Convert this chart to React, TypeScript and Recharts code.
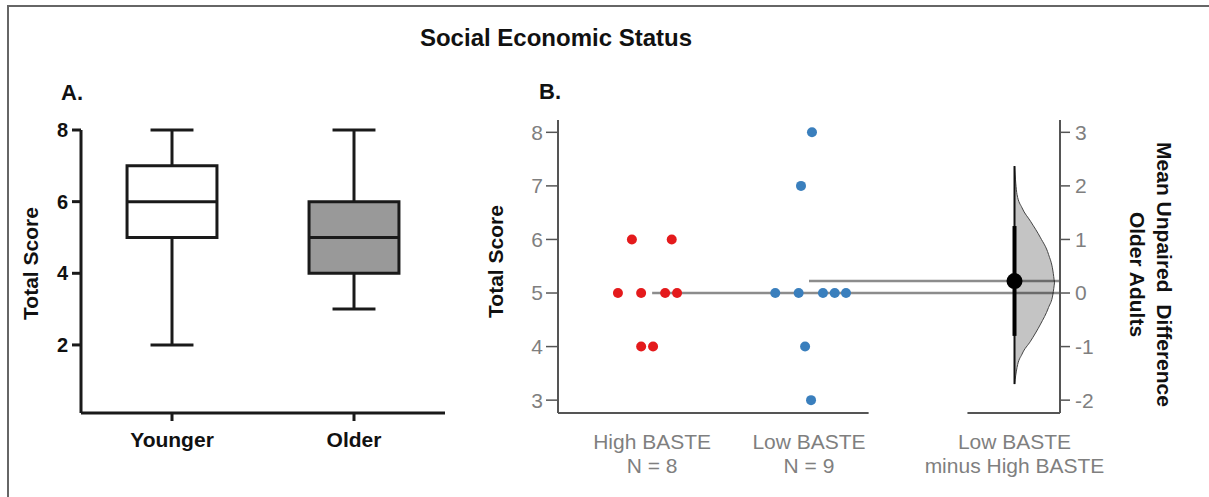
import React from "react";
import {
  ComposedChart,
  XAxis,
  YAxis,
  Scatter,
  Area,
  ReferenceLine,
  ReferenceArea,
  ReferenceDot,
  Label,
} from "recharts";

const FONT = '"Liberation Sans", Arial, Helvetica, sans-serif';

// Panel A - box plot summaries per age group
const ageGroups = ["Younger", "Older"];
const boxMin = [2, 3];
const boxQ1 = [5, 4];
const boxMedian = [6, 5];
const boxQ3 = [7, 6];
const boxMax = [8, 8];
const boxFill = ["#ffffff", "#999999"];

// Panel B - raw scores, with swarm offsets around each group position
const highBasteScores = [6, 6, 5, 5, 5, 5, 4, 4];
const highBasteSwarm = [-0.129, 0.125, -0.218, -0.07, 0.083, 0.159, -0.07, 0.006];
const lowBasteScores = [8, 7, 5, 5, 5, 5, 5, 4, 3];
const lowBasteSwarm = [0.019, -0.051, -0.215, -0.066, 0.089, 0.164, 0.236, -0.025, 0.013];

const groupPos = [1, 2, 3.31];
const groupLabels = [
  ["High BASTE", "N = 8"],
  ["Low BASTE", "N = 9"],
  ["Low BASTE", "minus High BASTE"],
];

// bootstrap distribution of the mean difference
const ciLow = -0.8;
const ciHigh = 1.25;
const distLow = -1.7;
const distHigh = 2.37;
const violinOffset = [0, 0.016, 0.048, 0.102, 0.166, 0.217, 0.245, 0.255];
const violinLow = [-1.7, -1.39, -1.14, -0.9, -0.58, -0.27, -0.02, 0.19];
const violinHigh = [2.37, 1.84, 1.59, 1.34, 1.03, 0.72, 0.41, 0.19];

const mean = (a: number[]) => a.reduce((s, v) => s + v, 0) / a.length;
const highMean = mean(highBasteScores);
const lowMean = mean(lowBasteScores);
const meanDiff = lowMean - highMean;

const boxData = ageGroups.map((name, i) => ({ x: i + 1, median: boxMedian[i], name }));
const highData = highBasteScores.map((y, i) => ({ x: groupPos[0] + highBasteSwarm[i], y }));
const lowData = lowBasteScores.map((y, i) => ({ x: groupPos[1] + lowBasteSwarm[i], y }));
const violinData = violinOffset.map((o, i) => ({
  x: groupPos[2] + o,
  band: [violinLow[i], violinHigh[i]],
}));

const B_LEFT = [2.76, 8.23];
const B_RIGHT = [B_LEFT[0] - highMean, B_LEFT[1] - highMean];
const B_X = [0.4, 3.6];

const GRAY_TEXT = "#7f7f7f";
const AXIS_GRAY = "#555";
const MEAN_LINE = { stroke: "#000", strokeOpacity: 0.45, strokeWidth: 2.5 };

const GroupTick = (props: any) => {
  const { x, y, payload } = props;
  const i = groupPos.indexOf(payload.value);
  const lines = groupLabels[i] || [];
  return (
    <g>
      {lines.map((t, k) => (
        <text
          key={k}
          x={x}
          y={y + 36 + k * 23.5}
          textAnchor="middle"
          fill={GRAY_TEXT}
          fontSize={21}
        >
          {t}
        </text>
      ))}
    </g>
  );
};

const VerticalTitle = ({ viewBox, lines, cx, dy, angle }: any) => {
  const x0 = viewBox.x + cx;
  const y0 = viewBox.y + viewBox.height / 2 + dy;
  return (
    <g>
      {lines.map((t: string, k: number) => {
        const lx = x0 + (angle > 0 ? -k * 27 : k * 27);
        return (
          <text
            key={k}
            x={lx}
            y={y0}
            transform={`rotate(${angle}, ${lx}, ${y0})`}
            textAnchor="middle"
            dominantBaseline="central"
            fontSize={21}
            fontWeight={700}
            fill="#111"
            style={{ whiteSpace: "pre" }}
          >
            {t}
          </text>
        );
      })}
    </g>
  );
};

const BoxPanel = () => {
  const halfBox = 0.247;
  const halfCap = 0.118;
  const dark = "#1a1a1a";
  const items: React.ReactNode[] = [];
  ageGroups.forEach((_, i) => {
    const c = i + 1;
    items.push(
      <ReferenceLine key={`wl${i}`} segment={[{ x: c, y: boxMin[i] }, { x: c, y: boxQ1[i] }]} stroke={dark} strokeWidth={3} />,
      <ReferenceLine key={`wh${i}`} segment={[{ x: c, y: boxQ3[i] }, { x: c, y: boxMax[i] }]} stroke={dark} strokeWidth={3} />,
      <ReferenceLine key={`cl${i}`} segment={[{ x: c - halfCap, y: boxMin[i] }, { x: c + halfCap, y: boxMin[i] }]} stroke={dark} strokeWidth={3} />,
      <ReferenceLine key={`ch${i}`} segment={[{ x: c - halfCap, y: boxMax[i] }, { x: c + halfCap, y: boxMax[i] }]} stroke={dark} strokeWidth={3} />,
      <ReferenceArea
        key={`b${i}`}
        x1={c - halfBox}
        x2={c + halfBox}
        y1={boxQ1[i]}
        y2={boxQ3[i]}
        fill={boxFill[i]}
        fillOpacity={1}
        stroke={dark}
        strokeWidth={3}
      />
    );
  });

  // median bar, 45px either side of the group centre
  const medianShape = (p: any) => (
    <line x1={p.cx - 45} x2={p.cx + 45} y1={p.cy} y2={p.cy} stroke={dark} strokeWidth={3} />
  );

  return (
    <ComposedChart width={460} height={497} data={boxData} margin={{ top: 130, right: 15, bottom: 44, left: 21 }}>
      <XAxis
        type="number"
        dataKey="x"
        domain={[0.5, 2.5]}
        ticks={[1, 2]}
        interval={0}
        allowDataOverflow
        tickFormatter={(v: number) => ageGroups[v - 1]}
        axisLine={{ stroke: dark, strokeWidth: 3 }}
        tickLine={{ stroke: dark, strokeWidth: 3 }}
        tickSize={8}
        tickMargin={11}
        tick={{ fill: "#111", fontSize: 21, fontWeight: 700 }}
        height={40}
      />
      <YAxis
        type="number"
        dataKey="median"
        domain={[0.1, 8]}
        ticks={[2, 4, 6, 8]}
        interval={0}
        allowDataOverflow
        width={60}
        axisLine={{ stroke: dark, strokeWidth: 3 }}
        tickLine={{ stroke: dark, strokeWidth: 3 }}
        tickSize={9}
        tickMargin={4}
        tick={{ fill: "#111", fontSize: 20, fontWeight: 700 }}
      >
        <Label content={(p: any) => <VerticalTitle viewBox={p.viewBox} lines={["Total Score"]} cx={9} dy={-8} angle={-90} />} />
      </YAxis>
      {items}
      <Scatter dataKey="median" shape={medianShape} isAnimationActive={false} />
    </ComposedChart>
  );
};

const EstimationPanel = () => {
  const dot = (fill: string) => (p: any) => <circle cx={p.cx} cy={p.cy} r={5} fill={fill} />;
  return (
    <ComposedChart width={739} height={497} margin={{ top: 120, right: 19, bottom: 24, left: 18 }}>
      <XAxis
        type="number"
        dataKey="x"
        domain={B_X}
        ticks={groupPos}
        interval={0}
        axisLine={false}
        tickLine={false}
        tickSize={0}
        tickMargin={0}
        tick={<GroupTick />}
        height={60}
      />
      <YAxis
        yAxisId="left"
        type="number"
        dataKey="y"
        domain={B_LEFT}
        ticks={[3, 4, 5, 6, 7, 8]}
        interval={0}
        allowDataOverflow
        width={70}
        axisLine={{ stroke: AXIS_GRAY, strokeWidth: 2 }}
        tickLine={{ stroke: AXIS_GRAY, strokeWidth: 1.5 }}
        tickSize={12}
        tickMargin={3}
        tick={{ fill: GRAY_TEXT, fontSize: 21 }}
      >
        <Label content={(p: any) => <VerticalTitle viewBox={p.viewBox} lines={["Total Score"]} cx={7} dy={-5} angle={-90} />} />
      </YAxis>
      <YAxis
        yAxisId="right"
        orientation="right"
        type="number"
        domain={B_RIGHT}
        ticks={[-2, -1, 0, 1, 2, 3]}
        interval={0}
        allowDataOverflow
        width={130}
        axisLine={{ stroke: AXIS_GRAY, strokeWidth: 2 }}
        tickLine={{ stroke: AXIS_GRAY, strokeWidth: 1.5 }}
        tickSize={10}
        tickMargin={5}
        tick={{ fill: GRAY_TEXT, fontSize: 21 }}
      >
        <Label
          content={(p: any) => (
            <VerticalTitle viewBox={p.viewBox} lines={["Mean Unpaired  Difference", "Older Adults"]} cx={104} dy={8} angle={90} />
          )}
        />
      </YAxis>

      {/* bottom axis, broken between the raw data and the contrast */}
      <ReferenceLine yAxisId="left" ifOverflow="visible" segment={[{ x: B_X[0], y: B_LEFT[0] }, { x: 2.38, y: B_LEFT[0] }]} stroke={AXIS_GRAY} strokeWidth={2} />
      <ReferenceLine yAxisId="left" ifOverflow="visible" segment={[{ x: 3.01, y: B_LEFT[0] }, { x: B_X[1], y: B_LEFT[0] }]} stroke={AXIS_GRAY} strokeWidth={2} />

      <Area
        yAxisId="right"
        data={violinData}
        dataKey="band"
        type="monotone"
        fill="#c4c4c4"
        fillOpacity={1}
        stroke="#444"
        strokeWidth={1}
        dot={false}
        activeDot={false}
        isAnimationActive={false}
      />
      <Scatter yAxisId="left" data={highData} dataKey="y" shape={dot("#e41a1c")} isAnimationActive={false} />
      <Scatter yAxisId="left" data={lowData} dataKey="y" shape={dot("#3a7fbd")} isAnimationActive={false} />

      <ReferenceLine yAxisId="left" segment={[{ x: groupPos[0], y: highMean }, { x: B_X[1], y: highMean }]} {...MEAN_LINE} />
      <ReferenceLine yAxisId="left" segment={[{ x: groupPos[1], y: lowMean }, { x: B_X[1], y: lowMean }]} {...MEAN_LINE} />

      <ReferenceLine yAxisId="right" segment={[{ x: groupPos[2], y: distLow }, { x: groupPos[2], y: distHigh }]} stroke="#111" strokeWidth={2} />
      <ReferenceLine yAxisId="right" segment={[{ x: groupPos[2], y: ciLow }, { x: groupPos[2], y: ciHigh }]} stroke="#000" strokeWidth={4} />
      <ReferenceDot yAxisId="right" x={groupPos[2]} y={meanDiff} r={8} fill="#000" stroke="none" />
    </ComposedChart>
  );
};

export default function App() {
  return (
    <div
      style={{
        position: "absolute",
        left: 0,
        top: 0,
        width: 1209,
        height: 497,
        background: "#fff",
        fontFamily: FONT,
        overflow: "hidden",
      }}
    >
      <div
        style={{
          position: "absolute",
          left: 7,
          top: 5,
          width: 1210,
          height: 500,
          borderLeft: "2px solid #666",
          borderTop: "2px solid #666",
        }}
      />
      <div style={{ position: "absolute", left: 0, top: 0 }}>
        <BoxPanel />
      </div>
      <div style={{ position: "absolute", left: 470, top: 0 }}>
        <EstimationPanel />
      </div>
      <div
        style={{
          position: "absolute",
          left: 356,
          top: 26,
          width: 400,
          textAlign: "center",
          fontSize: 24,
          fontWeight: 700,
          lineHeight: "24px",
          color: "#111",
        }}
      >
        Social Economic Status
      </div>
      <div style={{ position: "absolute", left: 61, top: 82, fontSize: 22, fontWeight: 700, lineHeight: "22px", color: "#111" }}>
        A.
      </div>
      <div style={{ position: "absolute", left: 539, top: 81, fontSize: 22, fontWeight: 700, lineHeight: "22px", color: "#111" }}>
        B.
      </div>
    </div>
  );
}
